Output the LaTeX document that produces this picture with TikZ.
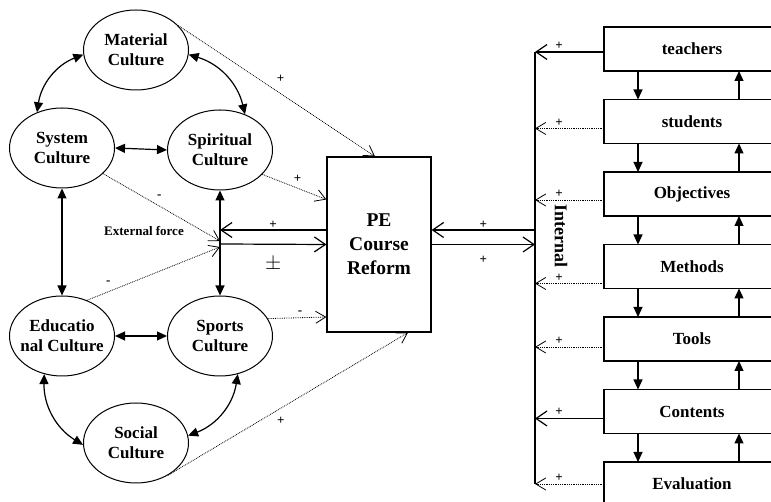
\documentclass[tikz,border=0pt]{standalone}
\usepackage{fontspec}
\setmainfont{Liberation Serif}
\usetikzlibrary{positioning, arrows.meta, shapes.geometric}

\begin{document}
\begin{tikzpicture}[x=1pt, y=1pt,
    cult/.style={ellipse,
    draw=black, % Ellipse colour (edge).
    line width=1pt,
    minimum width=105pt,
    minimum height=80pt,
    inner sep=0pt,
    label={[align=center, font=\fontsize{17}{20}\selectfont\bfseries]center:#1}},
    part/.style={rectangle,
    draw=black,
    line width=1.2pt,
    minimum width=176pt,
    minimum height=44pt,
    inner sep=0pt,
    outer sep=0pt,
    font=\fontsize{17}{20}\selectfont\bfseries},
    both/.style={{Triangle[length=10pt,width=9pt]}-{Triangle[length=10pt,width=9pt]}, line width=1.2pt},
    down/.style={-{Triangle[length=10pt,width=9pt]}, line width=1.2pt},
    open/.style={-{Straight Barb[length=11pt,width=15pt]}, line width=1.2pt},
    dots/.style={-{Straight Barb[length=10pt,width=12pt]}, densely dotted, line width=0.8pt},
    sign/.style={font=\fontsize{13}{13}\selectfont\bfseries, inner sep=1pt}]

        \path[use as bounding box, clip] (0,0) rectangle (771,502);

        % Culture nodes.
        \node[cult={Material\\Culture}] (mat) at (136,452) {};
        \node[cult={System\\Culture}] (sys) at (62,354) {};
        \node[cult={Spiritual\\Culture}] (spi) at (220,352) {};
        \node[cult={Educatio\\nal Culture}] (edu) at (62,166) {};
        \node[cult={Sports\\Culture}] (spo) at (220,166) {};
        \node[cult={Social\\Culture}] (soc) at (136,59) {};

        % Reform node.
        \node[draw, line width=1.2pt, minimum width=104pt, minimum height=175pt,
            align=center, font=\fontsize{19.5}{24}\selectfont\bfseries] (pe) at (379,257.5) {PE\\Course\\Reform};

        % Part nodes.
        \node[part] (teach) at (692,453) {teachers};
        \node[part, below=28.5pt of teach] (stud) {students};
        \node[part, below=28.5pt of stud] (obj) {Objectives};
        \node[part, below=28.5pt of obj] (meth) {Methods};
        \node[part, below=28.5pt of meth] (tool) {Tools};
        \node[part, below=28.5pt of tool] (cont) {Contents};
        \node[part, below=28.5pt of cont] (eval) {Evaluation};

        % Texts.
        \node[font=\fontsize{13}{13}\selectfont\bfseries] (force) at (144,271) {External force};
        \node[rotate=-90, font=\fontsize{18}{18}\selectfont\bfseries] (inner) at (561,266) {Internal};

        % Internal line.
        \coordinate (top) at (535,450);
        \coordinate (bot) at (535,18);
        \coordinate (ext) at (220,258);
        \draw[line width=1.2pt] (top) -- (bot);

        % Two-way edges.
        \draw[both] (spi.south) -- (spo.north);
        \draw[both] (sys.south) -- (edu.north);
        \draw[both] (sys.east) -- (spi.west);
        \draw[both] (edu.east) -- (spo.west);
        \draw[both] (mat.185) to[bend right] (sys.125);
        \draw[both] (mat.355) to[bend left] (spi.55);
        \draw[both] (edu.245) to[bend right] (soc.182);
        \draw[both] (spo.295) to[bend left] (soc.8);

        % Reform edges.
        \draw[open] ([yshift=14.5pt]pe.east -| top) -- ([yshift=14.5pt]pe.east) node[sign, midway, above] {+};
        \draw[open] (pe.east) -- (pe.east -| top) node[sign, midway, below=10pt] {+};
        \draw[open] ([yshift=14.5pt]pe.west) -- ([yshift=14.5pt]pe.west -| ext) node[sign, midway, above] {+};
        \draw[open] (ext) -- (pe.west) node[midway, below=9pt, font=\fontsize{20}{20}\selectfont] {$\pm$};

        % Dotted edges.
        \draw[dots] (mat.30) -- ([xshift=-4pt]pe.north) node[sign, pos=0.52, above=10pt] {+};
        \draw[dots] (spi.-30) -- ([yshift=45pt]pe.west) node[sign, pos=0.55, above=4pt] {+};
        \draw[dots] (sys.-32) -- ([yshift=3pt]ext) node[sign, pos=0.48, above=6pt] {-};
        \draw[dots] (edu.55) -- ([yshift=-3pt]ext) node[sign, pos=0.16, above=6pt] {-};
        \draw[dots] (spo.20) -- ([yshift=-72.5pt]pe.west) node[sign, pos=0.55, above=2pt] {-};
        \draw[dots] (soc.-45) -- ([xshift=29pt]pe.south) node[sign, pos=0.47, below=8pt] {+};

        % Part edges.
        \foreach \n/\dy/\st in {teach/-3/open, stud/-7/dots, obj/-6/dots, meth/-17/dots,
            tool/-8/dots, cont/-7/open, eval/0/dots}
        \draw[\st] ([yshift=\dy pt]\n.west) -- ([yshift=\dy pt]\n.west -| top) node[sign, pos=0.65, above=1pt] {+};

        \foreach \a/\b in {teach/stud, stud/obj, obj/meth, meth/tool, tool/cont, cont/eval} {
        \draw[down] ([xshift=-54pt]\a.south) -- ([xshift=-54pt]\b.north);
        \draw[down] ([xshift=47pt]\b.north) -- ([xshift=47pt]\a.south);
        }
    \end{tikzpicture}
\end{document}
